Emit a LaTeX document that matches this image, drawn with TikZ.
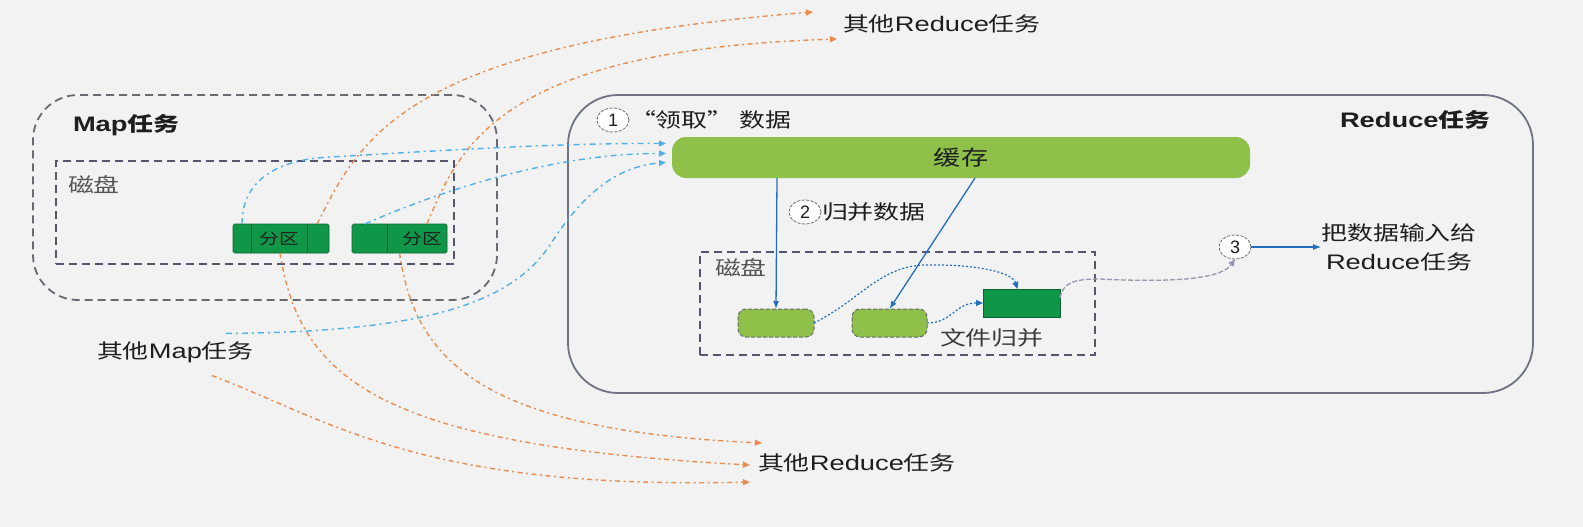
\documentclass[tikz,border=0pt]{standalone}
\usepackage{fontspec}
\setmainfont{Liberation Sans}
\newfontfamily\cjk[Scale=0.95]{Noto Sans CJK SC}
\usetikzlibrary{shapes.geometric,arrows.meta,calc}
\newcommand\wide[1]{\scalebox{1.3}[1]{#1}}
\newcommand\zh[1]{{\cjk #1}}
\definecolor{bg}{RGB}{242,242,242}
\definecolor{dkgreen}{RGB}{16,150,72}
\definecolor{dkgreenline}{RGB}{10,100,50}
\definecolor{ltgreen}{RGB}{142,192,74}
\definecolor{boxgray}{RGB}{110,114,130}
\definecolor{mapgray}{RGB}{105,105,115}
\definecolor{diskgray}{RGB}{85,85,110}
\definecolor{ltblue}{RGB}{80,175,230}
\definecolor{dkblue}{RGB}{35,110,190}
\definecolor{orng}{RGB}{232,140,80}
\definecolor{txt}{RGB}{30,30,30}
\definecolor{linkgray}{RGB}{150,150,175}
\begin{document}
\begin{tikzpicture}[x=1pt,y=-1pt,
  every node/.style={inner sep=0pt, outer sep=0pt, text=txt, font=\fontsize{21}{25}\selectfont},
  mapbox/.style={draw=mapgray, line width=1.8pt, dash pattern=on 8pt off 5pt, rounded corners=45pt},
  diskbox/.style={draw=diskgray, line width=1.8pt, dash pattern=on 8pt off 5pt},
  redbox/.style={draw=boxgray, line width=1.8pt, rounded corners=50pt},
  part/.style={fill=dkgreen, draw=dkgreenline, line width=0.6pt, rounded corners=1.5pt},
  divider/.style={draw=dkgreenline, line width=1pt},
  smallbox/.style={fill=ltgreen, draw=mapgray, line width=1pt, dash pattern=on 4pt off 2pt, rounded corners=8pt},
  numcirc/.style={ellipse, draw=mapgray, line width=0.8pt, dash pattern=on 3pt off 1.5pt, fill=white, minimum width=32pt, minimum height=24pt, font=\fontsize{18}{20}\selectfont},
  orangelink/.style={draw=orng, line width=1.4pt, dash pattern=on 5pt off 3.5pt on 2pt off 3.5pt, -{Triangle[length=7pt,width=6pt]}},
  bluelink/.style={draw=ltblue, line width=1.4pt, dash pattern=on 6pt off 4pt on 2pt off 4pt, -{Triangle[length=7pt,width=6pt]}},
  solidblue/.style={draw=dkblue, line width=1.3pt, -{Latex[length=8pt,width=6pt]}},
  dotblue/.style={draw=dkblue, line width=1.2pt, dash pattern=on 2pt off 2pt, -{Triangle[length=7pt,width=6pt]}},
  graylink/.style={draw=linkgray, line width=1.3pt, dash pattern=on 5pt off 2pt, -{Triangle[length=7pt,width=6pt]}}
]
\fill[bg] (0,0) rectangle (1583,527);
\useasboundingbox (0,0) rectangle (1583,527);

% ---------- Map task ----------
\node[mapbox, minimum width=464pt, minimum height=205pt] (mapt) at (265,197.5) {};
\node[anchor=west, font=\fontsize{21}{25}\selectfont\bfseries] (mtitle) at (73,125) {\wide{Map\zh{任务}}};
\node[diskbox, minimum width=398pt, minimum height=103pt] (mdisk) at (255,212.5) {};
\node[anchor=west, text={rgb,255:red,85;green,85;blue,85}] (mdisktxt) at (68,185) {\wide{\zh{磁盘}}};

\node[part, minimum width=96pt, minimum height=29pt] (p1) at (281,238.5) {};
\draw[divider] ($(p1.north west)+(18,0)$) -- ($(p1.south west)+(18,0)$);
\draw[divider] ($(p1.north west)+(74,0)$) -- ($(p1.south west)+(74,0)$);
\node[font=\fontsize{16}{18}\selectfont] (p1t) at (279,238.5) {\wide{\zh{分区}}};

\node[part, minimum width=95pt, minimum height=29pt] (p2) at (399.5,238.5) {};
\draw[divider] ($(p2.north west)+(35,0)$) -- ($(p2.south west)+(35,0)$);
\node[font=\fontsize{16}{18}\selectfont] (p2t) at (422,238.5) {\wide{\zh{分区}}};

\node[anchor=west] (om) at (97,352) {\wide{\zh{其他}Map\zh{任务}}};

% ---------- Reduce task ----------
\node[redbox, minimum width=965pt, minimum height=298pt] (redt) at (1050.5,244) {};
\node[anchor=west, font=\fontsize{21}{25}\selectfont\bfseries] (rtitle) at (1340,120) {\wide{Reduce\zh{任务}}};

\node[numcirc] (c1) at (613,120) {1};
\node[anchor=west] (l1) at (630,120) {\wide{\zh{“领取” 数据}}};

\node[fill=ltgreen, rounded corners=14pt, minimum width=578pt, minimum height=41pt, font=\fontsize{22}{25}\selectfont] (cache) at (961,157.5) {\wide{\zh{缓存}}};

\node[numcirc] (c2) at (805,212) {2};
\node[anchor=west] (l2) at (822,212) {\wide{\zh{归并数据}}};

\node[diskbox, minimum width=395pt, minimum height=103pt] (rdisk) at (897.5,303.5) {};
\node[anchor=west, text={rgb,255:red,85;green,85;blue,85}] (rdisktxt) at (715,268) {\wide{\zh{磁盘}}};

\node[smallbox, minimum width=76pt, minimum height=28pt] (A) at (776,323) {};
\node[smallbox, minimum width=75pt, minimum height=28pt] (B) at (889.5,323) {};
\node[fill=dkgreen, draw=dkgreenline, line width=0.6pt, minimum width=77pt, minimum height=28pt] (D) at (1021.5,303) {};
\node[anchor=west, text={rgb,255:red,60;green,60;blue,60}] (mergetxt) at (940,338) {\wide{\zh{文件归并}}};

\node[numcirc] (c3) at (1235,247) {3};
\node[align=center, font=\fontsize{21}{29}\selectfont] (out) at (1399,247) {\wide{\zh{把数据输入给}}\\\wide{Reduce\zh{任务}}};

% ---------- other reduce labels ----------
\node[anchor=west] (tr) at (843,24) {\wide{\zh{其他}Reduce\zh{任务}}};
\node[anchor=west] (br) at (758,463) {\wide{\zh{其他}Reduce\zh{任务}}};

% ---------- connectors: orange ----------
\draw[orangelink] ($(p1.north east)+(-12,0)$) .. controls (360,140) and (400,45) .. ($(tr.west)+(-30,-12)$);
\draw[orangelink] ($(p2.north east)+(-20,0)$) .. controls (460,145) and (500,50) .. ($(tr.west)+(-6,15)$);
\draw[orangelink] (p2.south) .. controls (415,360) and (480,430) .. ($(br.west)+(4,-20)$);
\draw[orangelink] ($(p1.south)+(-1,0)$) .. controls (300,380) and (380,445) .. ($(br.west)+(-8,2)$);
\draw[orangelink] ($(om.south east)+(-42,13)$) .. controls (330,420) and (420,490) .. ($(br.west)+(-8,19)$);

% ---------- connectors: blue dashed to cache ----------
\draw[bluelink] ($(p1.north west)+(9,0)$) .. controls (242,185) and (270,160) .. (330,157) .. controls (450,150) and (560,143) .. ($(cache.west)+(-6,-14)$);
\draw[bluelink] ($(p2.north west)+(13,0)$) .. controls (430,195) and (550,153) .. ($(cache.west)+(-6,-4)$);
\draw[bluelink] ($(om.north east)+(-28,-8)$) .. controls (420,332) and (510,305) .. (550,245) .. controls (585,190) and (620,166) .. ($(cache.west)+(-6,5)$);

% ---------- connectors: reduce internal ----------
\draw[solidblue] ($(cache.south west)+(105,0)$) -- (A.north);
\draw[solidblue] ($(cache.south west)+(303,0)$) -- (B.north);
\draw[dotblue] (A.east) .. controls (860,300) and (880,266) .. (925,265) .. controls (975,264) and (1012,272) .. ($(D.north)+(-4,0)$);
\draw[dotblue] (B.east) .. controls (952,323) and (955,303) .. (D.west);
\draw[graylink] ($(D.east)+(0,-5)$) .. controls (1063,282) and (1075,279) .. (1100,279) .. controls (1180,283) and (1222,278) .. (c3.south);
\draw[solidblue] (c3.east) -- (out.west);
\end{tikzpicture}
\end{document}
